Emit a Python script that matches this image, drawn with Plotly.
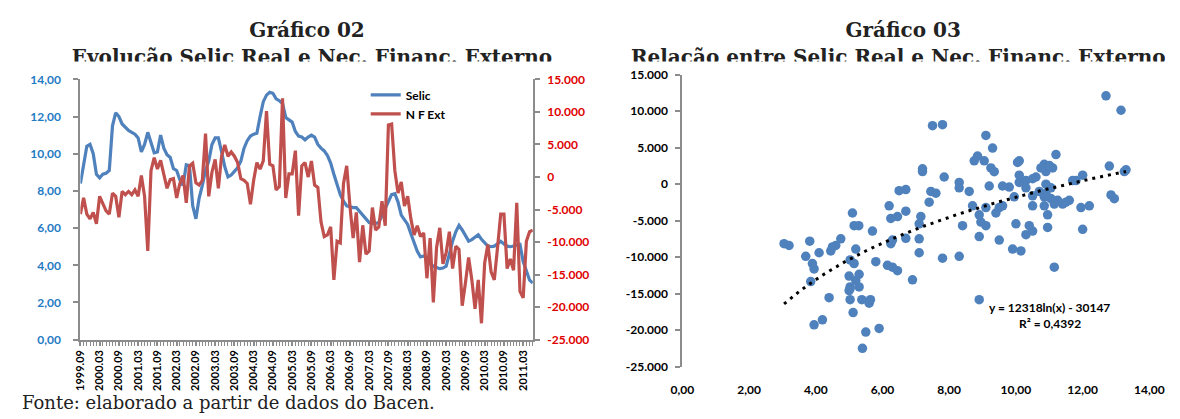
import numpy as np
import plotly.graph_objects as go

W, H = 1180, 419

# Monthly series, 1999.09 through 2011.06
SELIC = [
    8.4, 9.5, 10.4, 10.5, 10.0, 8.9, 8.7, 8.9, 8.95, 9.1,
    11.5, 12.2, 12.0, 11.6, 11.4, 11.25, 11.15, 11.05, 10.85, 10.1,
    10.5, 11.15, 10.6, 10.05, 10.1, 11.0, 10.3, 9.95, 9.8, 9.2,
    9.1, 8.6, 8.3, 9.4, 9.35, 7.2, 6.5, 7.6, 8.3, 9.1,
    9.6, 10.5, 10.85, 10.85, 10.1, 9.3, 8.75, 8.85, 9.05, 9.25,
    9.6, 10.3, 10.7, 10.95, 11.05, 11.1, 12.0, 12.8, 13.15, 13.3,
    13.25, 12.95, 12.85, 12.7, 11.95, 11.8, 11.7, 11.2, 10.95, 10.9,
    10.75, 10.9, 11.0, 10.9, 10.5, 10.3, 10.15, 9.9, 9.5, 8.9,
    8.3, 7.8, 7.45, 7.2, 7.15, 7.1, 7.1, 6.9, 6.7, 6.45,
    6.3, 6.25, 6.25, 6.3, 6.7, 7.1, 7.5, 7.8, 7.85, 7.4,
    6.7, 6.45, 6.2, 5.7, 5.2, 4.75, 4.45, 4.5, 4.4, 4.1,
    3.95, 3.9, 3.82, 3.85, 3.95, 4.6, 5.3, 5.8, 6.15, 5.9,
    5.6, 5.3, 5.38, 5.5, 5.64, 5.4, 5.2, 5.03, 5.0, 5.03,
    5.15, 5.29, 5.15, 5.03, 5.0, 5.03, 5.1, 5.12, 4.2, 3.7,
    3.2, 3.05,
]

NF_EXT = [
    -5700, -3220, -5700, -6440, -5440, -7180, -2970, -4210, -5200, -5700,
    -2480, -2970, -6190, -2230, -2730, -2230, -2730, -1990, -2970, 230,
    -2970, -11370, 970, 2960, 1220, 2560, 480, -1740, -410, -260,
    -3220, -1000, 230, -3960, 1700, 2100, -900, -1240, -510, 6660,
    -2970, 730, 2700, -1740, 3190, 4930, 3190, 3840, 3190, 2210,
    -260, -510, -1000, -4210, -510, 2210, 1220, 2460, 10110, 1960,
    1710, -2000, -1490, 12080, -3220, 480, 480, 4040, -5930, 1710,
    2210, -10, 2460, -1240, -1600, -6930, -9150, -8900, -7670, -15820,
    -9890, -10140, -1000, 1710, -4450, -9400, -5440, -13100, -7420, -11860,
    -11370, -4700, -8160, -7670, -3710, -7500, 8000, 8140, 970, -2480,
    -750, -4450, -2970, -6440, -8900, -7500, -9150, -8600, -15560, -9400,
    -19270, -10880, -7820, -13340, -11620, -8410, -14080, -10630, -11120, -19770,
    -16300, -12360, -15820, -20260, -15820, -22480, -13200, -10380, -14580, -15820,
    -10880, -5700, -5700, -14080, -12600, -14330, -3960, -17590, -18580, -9890,
    -8410, -8160,
]

MONTH_LABELS = [
    "1999.09", "2000.03", "2000.09", "2001.03", "2001.09", "2002.03",
    "2002.09", "2003.03", "2003.09", "2004.03", "2004.09", "2005.03",
    "2005.09", "2006.03", "2006.09", "2007.03", "2007.09", "2008.03",
    "2008.09", "2009.03", "2009.09", "2010.03", "2010.09", "2011.03",
]

SELIC_TICKS = [0, 2, 4, 6, 8, 10, 12, 14]
SELIC_LABELS = ["0,00", "2,00", "4,00", "6,00", "8,00", "10,00", "12,00", "14,00"]
NF_TICKS = [-25000, -20000, -15000, -10000, -5000, 0, 5000, 10000, 15000]
NF_LABELS = ["-25.000", "-20.000", "-15.000", "-10.000", "-5.000", "0",
             "5.000", "10.000", "15.000"]

# Logarithmic trend fitted to the scatter
TREND_SLOPE = 12318
TREND_INTERCEPT = -30147
TREND_R2 = "0,4392"

TITLES_LEFT = ["Gráfico 02", "Evolução Selic Real e Nec. Financ. Externo"]
TITLES_RIGHT = ["Gráfico 03", "Relação entre Selic Real e Nec. Financ. Externo"]
SOURCE_NOTE = "Fonte: elaborado a partir de dados do Bacen."

BLUE = "#4F81BD"
RED = "#C0504D"
GREY = "#8C8C8C"
LABEL_BLUE = "#1F7BC4"
LABEL_RED = "#E00000"
TEXT = "#222222"
SANS = "Lato"
SERIF = "DejaVu Serif"


def hx(px):
    return px / W


def vy(py):
    return 1 - py / H


months = list(range(len(SELIC)))

fig = go.Figure()

fig.add_trace(go.Scatter(
    x=months, y=SELIC, name="Selic", mode="lines",
    line=dict(color=BLUE, width=3.2), xaxis="x", yaxis="y",
))
fig.add_trace(go.Scatter(
    x=months, y=NF_EXT, name="N F Ext", mode="lines",
    line=dict(color=RED, width=3.2), xaxis="x", yaxis="y2",
))

fig.add_trace(go.Scatter(
    x=SELIC, y=NF_EXT, mode="markers", showlegend=False,
    marker=dict(color=BLUE, size=9.5, line=dict(width=0)),
    xaxis="x3", yaxis="y3",
))

trend_x = np.linspace(min(SELIC), max(SELIC), 200)
trend_y = TREND_SLOPE * np.log(trend_x) + TREND_INTERCEPT
fig.add_trace(go.Scatter(
    x=trend_x, y=trend_y, mode="lines", showlegend=False,
    line=dict(color="black", width=3, dash="3px,5px"),
    xaxis="x3", yaxis="y3",
))

# Chart titles, drawn in a thin strip at the top so the second line is trimmed
TITLE_SIZE = 20
TITLE_CLIP = 55.5
line1_base, line2_base = 30, 57.5
fig.add_trace(go.Scatter(
    x=[302, 307, 912, 907],
    y=[b - 0.25 * TITLE_SIZE for b in (line1_base, line2_base, line1_base, line2_base)],
    text=TITLES_LEFT + TITLES_RIGHT,
    mode="text", textposition="middle center", showlegend=False,
    hoverinfo="skip", cliponaxis=True,
    textfont=dict(family=SERIF, size=TITLE_SIZE, color=TEXT, weight="bold"),
    xaxis="x5", yaxis="y5",
))

axis_common = dict(showgrid=False, zeroline=False, showline=True,
                   linecolor=GREY, linewidth=2, ticks="outside",
                   tickcolor=GREY, tickwidth=1.5, fixedrange=True)

y3_bottom, y3_top = vy(372), vy(69)
zero_pos = y3_bottom + (0 - NF_TICKS[0]) / (NF_TICKS[-1] - NF_TICKS[0]) * (y3_top - y3_bottom)

fig.update_layout(
    width=W, height=H,
    margin=dict(l=0, r=0, t=0, b=0),
    paper_bgcolor="white", plot_bgcolor="rgba(0,0,0,0)",
    xaxis=dict(
        **axis_common, domain=[hx(70), hx(533)], range=[0, len(SELIC) - 1],
        anchor="y", tickmode="array", tickvals=months[::6], ticktext=MONTH_LABELS,
        tickangle=-90, ticklen=4,
        tickfont=dict(family=SANS, size=11, color="black", weight="bold"),
        minor=dict(tickmode="linear", tick0=0, dtick=1, ticks="outside",
                   ticklen=4, tickcolor=GREY, tickwidth=1, showgrid=False),
    ),
    yaxis=dict(
        **axis_common, domain=[vy(344), vy(74)], range=[0, 14], anchor="x",
        tickmode="array", tickvals=SELIC_TICKS, ticktext=SELIC_LABELS, ticklen=5,
        ticklabelstandoff=10,
        tickfont=dict(family=SANS, size=12, color=LABEL_BLUE, weight="bold"),
    ),
    yaxis2=dict(
        **axis_common, overlaying="y", side="right", anchor="x",
        range=[NF_TICKS[0], NF_TICKS[-1]], tickmode="array",
        tickvals=NF_TICKS, ticktext=NF_LABELS, ticklen=5, ticklabelstandoff=5,
        tickfont=dict(family=SANS, size=12, color=LABEL_RED, weight="bold"),
    ),
    xaxis3=dict(
        showgrid=False, zeroline=False, showline=False, fixedrange=True,
        domain=[hx(686), hx(1164)], range=[0, 14], anchor="y3",
        tickmode="array", tickvals=SELIC_TICKS, ticktext=SELIC_LABELS,
        ticks="outside", ticklen=12, tickcolor="rgba(0,0,0,0)",
        tickfont=dict(family=SANS, size=12, color="black", weight="bold"),
    ),
    xaxis4=dict(
        **axis_common, overlaying="x3", anchor="free", position=zero_pos,
        range=[0, 14], tickmode="array", tickvals=SELIC_TICKS[1:], ticklen=5,
        showticklabels=False,
    ),
    yaxis3=dict(
        **axis_common, domain=[y3_bottom, y3_top], anchor="x3",
        range=[NF_TICKS[0], NF_TICKS[-1]], tickmode="array",
        tickvals=NF_TICKS, ticktext=NF_LABELS, ticklen=5, ticklabelstandoff=5,
        tickfont=dict(family=SANS, size=12, color="black", weight="bold"),
    ),
    xaxis5=dict(domain=[0, 1], range=[0, W], visible=False, fixedrange=True),
    yaxis5=dict(domain=[vy(TITLE_CLIP), 1], range=[TITLE_CLIP, 0],
                visible=False, fixedrange=True, anchor="x5"),
    legend=dict(
        x=hx(362), y=vy(75), xanchor="left", yanchor="top",
        bgcolor="rgba(0,0,0,0)", tracegroupgap=0,
        font=dict(family=SANS, size=12, color="black", weight="bold"),
    ),
    annotations=[
        dict(text=SOURCE_NOTE, x=hx(8), y=vy(409), xref="paper", yref="paper",
             xanchor="left", yanchor="middle", showarrow=False,
             font=dict(family=SERIF, size=18, color=TEXT)),
        dict(text=f"y = {TREND_SLOPE}ln(x) - {abs(TREND_INTERCEPT)}",
             x=hx(1062), y=vy(311), xref="paper", yref="paper",
             xanchor="center", yanchor="middle", showarrow=False,
             font=dict(family=SANS, size=12, color="black", weight="bold")),
        dict(text=f"R² = {TREND_R2}",
             x=hx(1062), y=vy(327), xref="paper", yref="paper",
             xanchor="center", yanchor="middle", showarrow=False,
             font=dict(family=SANS, size=12, color="black", weight="bold")),
    ],
)

fig.write_html("out.html")
